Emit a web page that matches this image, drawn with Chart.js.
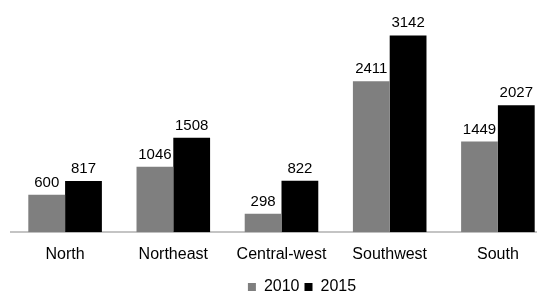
<!DOCTYPE html>
<html>
<head>
<meta charset="utf-8">
<script src="https://cdn.jsdelivr.net/npm/chart.js@4/dist/chart.umd.min.js"></script>
<style>
  html, body { margin: 0; padding: 0; background: #fff; overflow: hidden; }
  #wrap { width: 553px; height: 295px; }
</style>
</head>
<body>
<div id="wrap"><canvas id="regionChart" width="553" height="295"></canvas></div>
<script>
// Data
const regions = ['North', 'Northeast', 'Central-west', 'Southwest', 'South'];
const values2010 = [600, 1046, 298, 2411, 1449];
const values2015 = [817, 1508, 822, 3142, 2027];
const seriesNames = ['2010', '2015'];

// draws the value above each bar
const barLabels = {
  id: 'barLabels',
  afterDatasetsDraw(chart) {
    const ctx = chart.ctx;
    ctx.save();
    ctx.font = '15px "Liberation Sans", Arial, sans-serif';
    ctx.fillStyle = '#000';
    ctx.textAlign = 'center';
    ctx.textBaseline = 'alphabetic';
    chart.data.datasets.forEach((ds, i) => {
      chart.getDatasetMeta(i).data.forEach((bar, j) => {
        ctx.fillText(ds.data[j], bar.x, bar.y - 8);
      });
    });
    ctx.restore();
  }
};

// the legend in the original sits right of the canvas centre
const legendShift = {
  id: 'legendShift',
  afterLayout(chart) {
    const lg = chart.legend;
    const dx = 302 - (lg.left + lg.right) / 2;
    lg.left += dx;
    lg.right += dx;
  }
};

const ctx = document.getElementById('regionChart').getContext('2d');
const regionChart = new Chart(ctx, {
  type: 'bar',
  data: {
    labels: regions,
    datasets: [{
      label: seriesNames[0],
      data: values2010,
      backgroundColor: '#7f7f7f'
    }, {
      label: seriesNames[1],
      data: values2015,
      backgroundColor: '#000000'
    }]
  },
  options: {
    responsive: false,
    animation: false,
    layout: { padding: { left: 11, right: 1, top: 13, bottom: -10 } },
    categoryPercentage: 0.68,
    barPercentage: 1.0,
    scales: {
      x: {
        grid: { display: false, drawTicks: false },
        border: { display: true, color: '#c4c4c4', width: 2 },
        ticks: {
          color: '#000',
          padding: 12.5,
          font: { family: '"Liberation Sans", Arial, sans-serif', size: 16 }
        },
        afterFit(scale) {
          scale.height -= 2.5;
        }
      },
      y: {
        display: false,
        min: 0,
        max: 3500
      }
    },
    plugins: {
      legend: {
        position: 'bottom',
        labels: {
          color: '#000',
          boxWidth: 8,
          boxHeight: 8,
          padding: 5,
          font: { family: '"Liberation Sans", Arial, sans-serif', size: 16 }
        }
      },
      tooltip: { enabled: false }
    }
  },
  plugins: [barLabels, legendShift]
});
</script>
</body>
</html>
